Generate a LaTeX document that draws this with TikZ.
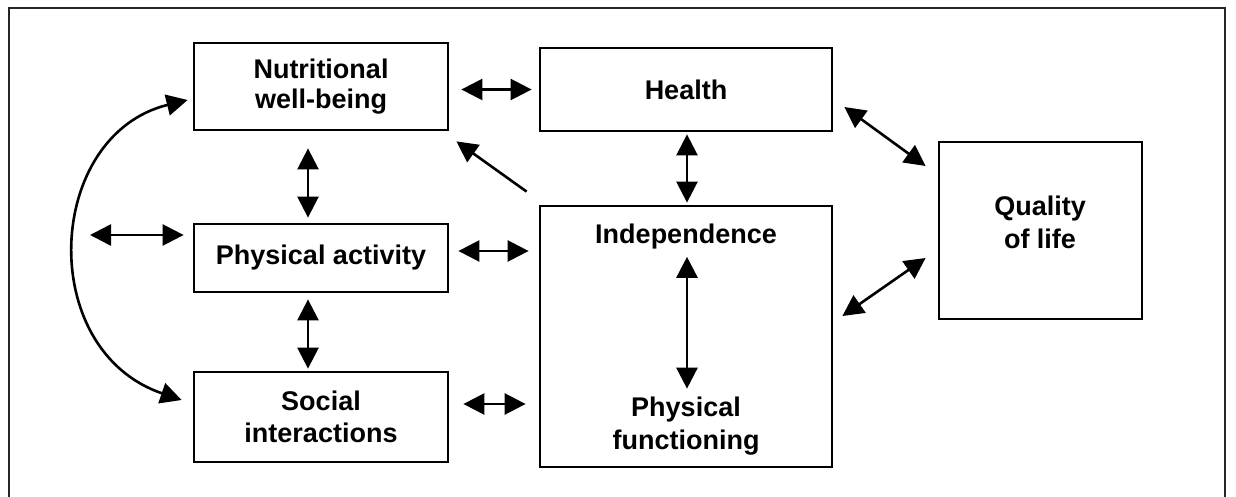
\documentclass[tikz,border=0pt]{standalone}
\usepackage{fontspec}
\setmainfont{Liberation Sans}
\usetikzlibrary{arrows.meta,calc}
\begin{document}
\begin{tikzpicture}[x=1pt,y=-1pt,
  txt/.style={font=\fontsize{27}{33}\selectfont\bfseries},
  box/.style={draw, line width=2.8pt, inner sep=0pt, align=center, txt},
  lbl/.style={inner sep=0pt, align=center, txt},
  dbl/.style={line width=2.6pt, {Triangle[length=21pt,width=21pt]}-{Triangle[length=21pt,width=21pt]}},
  sgl/.style={line width=2.6pt, -{Triangle[length=21pt,width=21pt]}}]
\useasboundingbox (0,0) rectangle (1236,497);
% outer frame
\draw[line width=1.6pt, black!85] (9,520) -- (9,8) -- (1225,8) -- (1225,520);
% boxes
\node[box, minimum width=254pt, minimum height=87pt, font=\fontsize{27}{29.5}\selectfont\bfseries] (nut) at (321,86.5) {Nutritional\\well-being};
\node[box, minimum width=292pt, minimum height=83pt] (health) at (686,89.5) {Health};
\node[box, minimum width=254pt, minimum height=68pt] (pa) at (321,258) {Physical activity};
\node[box, minimum width=254pt, minimum height=90pt, font=\fontsize{27}{32}\selectfont\bfseries] (soc) at (321,417) {Social\\interactions};
\node[box, minimum width=292pt, minimum height=261pt] (ind) at (686,336.5) {};
\node[box, minimum width=203pt, minimum height=177pt] (qol) at (1040.5,230.5) {};
\node[lbl, anchor=base] (indt) at (686,243) {Independence};
\node[lbl] (pft) at (686,426) {Physical\\functioning};
\node[lbl] (qolt) at (1040,222) {Quality\\of life};
\coordinate (lft) at (90,235);
% connectors
\draw[dbl] ($(nut.east|-health.west)+(12,0)$) -- ($(health.west)+(-7,0)$);
\draw[dbl] ($(nut.south)+(-13,17)$) -- ($(pa.north)+(-13,-5)$);
\draw[dbl] ($(pa.south)+(-13,6)$) -- ($(soc.north)+(-13,-2)$);
\draw[dbl] (lft) -- ($(pa.west|-lft)+(-9,0)$);
\draw[dbl] ($(nut.west)+(-5,13.5)$) .. controls (45,135) and (35,350) .. ($(soc.west)+(-11,-17)$);
\draw[sgl] ($(ind.north west)+(-12,-13)$) -- ($(nut.south east)+(7,10)$);
\draw[dbl] ($(health.south)+(1,2)$) -- ($(ind.north)+(1,-2)$);
\draw[dbl] ($(pa.east)+(9,-7)$) -- ($(ind.west|-pa.east)+(-10,-7)$);
\draw[dbl] ($(soc.east)+(14,-13)$) -- ($(ind.west|-soc.east)+(-13,-13)$);
\draw[dbl] ($(indt.south)+(1,8)$) -- ($(pft.north)+(1,-8)$);
\draw[dbl] ($(health.east)+(11,17.5)$) -- ($(qol.west)+(-12,-64.5)$);
\draw[dbl] ($(ind.east)+(9,-20.5)$) -- ($(qol.west)+(-12,27.5)$);
\end{tikzpicture}
\end{document}
